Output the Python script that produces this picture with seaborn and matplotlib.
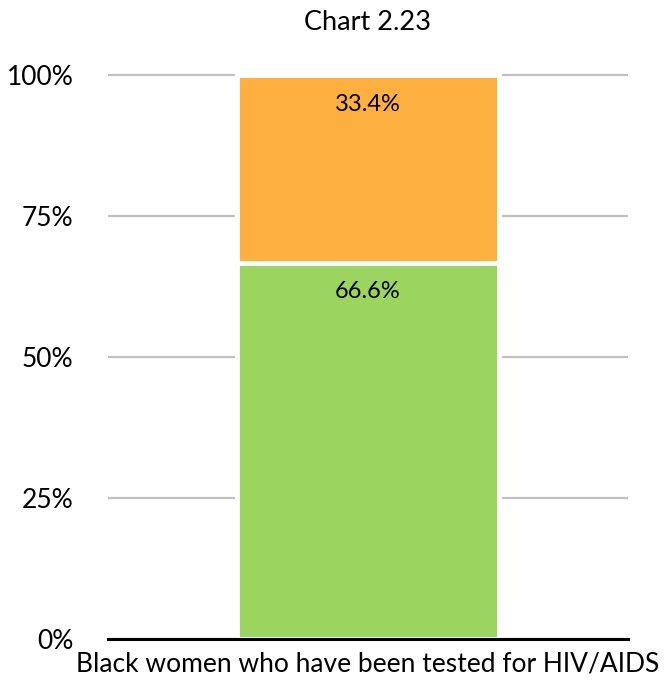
import pandas as pd
import matplotlib
matplotlib.use("Agg")
import matplotlib.pyplot as plt
import seaborn as sns

# === Data ===
category = ["Black women who have been tested for HIV/AIDS"]
segment_names = ["Tested", "Not tested"]
tested = [66.6]
not_tested = [33.4]
tick_values = [0, 25, 50, 75, 100]
tick_labels = ["0%", "25%", "50%", "75%", "100%"]

green = "#9BD45F"
orange = "#FDB03F"

df = pd.DataFrame({"category": category, "tested": tested, "not_tested": not_tested})
df["top"] = df["tested"] + df["not_tested"]

sns.set_theme(style="white")
plt.rcParams["font.family"] = ["Lato", "DejaVu Sans"]
plt.rcParams["text.color"] = "black"
plt.rcParams["xtick.color"] = "black"
plt.rcParams["ytick.color"] = "black"

fig = plt.figure(figsize=(6.68, 6.86), dpi=100)
ax = fig.add_axes([108 / 668, 1 - 639 / 686, 520 / 668, (639 - 75) / 686 / 100 * 101])

# stacked bar: full height in orange, green drawn over the bottom part
sns.barplot(data=df, x="category", y="top", color=orange, saturation=1, width=0.505,
            edgecolor="white", linewidth=3.5, ax=ax, zorder=3)
sns.barplot(data=df, x="category", y="tested", color=green, saturation=1, width=0.505,
            edgecolor="white", linewidth=3.5, ax=ax, zorder=4)

# value labels near the top of each segment
for _, row in df.iterrows():
    ax.annotate(f"{row['not_tested']:.1f}%", xy=(0, row["top"]), xytext=(0, -21),
                textcoords="offset points", ha="center", va="center", fontsize=17, zorder=5)
    ax.annotate(f"{row['tested']:.1f}%", xy=(0, row["tested"]), xytext=(0, -20),
                textcoords="offset points", ha="center", va="center", fontsize=17, zorder=5)

ax.set_ylim(0, 101)
ax.set_xlim(-0.5, 0.5)
ax.set_yticks(tick_values)
ax.set_yticklabels(tick_labels, fontsize=19)
ax.yaxis.grid(True, color="#c0c0c0", linewidth=1.6)
ax.set_axisbelow(True)
ax.tick_params(axis="y", length=0, pad=25)
ax.tick_params(axis="x", length=0, pad=9, labelsize=19)

sns.despine(ax=ax, left=True, top=True, right=True)
ax.spines["bottom"].set_color("black")
ax.spines["bottom"].set_linewidth(2.2)
ax.spines["bottom"].set_zorder(6)

ax.set_xlabel("")
ax.set_ylabel("")
fig.text(367 / 668, 1 - 22 / 686, "Chart 2.23", ha="center", va="center", fontsize=19.5)

fig.savefig("out.png", dpi=100)
plt.close(fig)
